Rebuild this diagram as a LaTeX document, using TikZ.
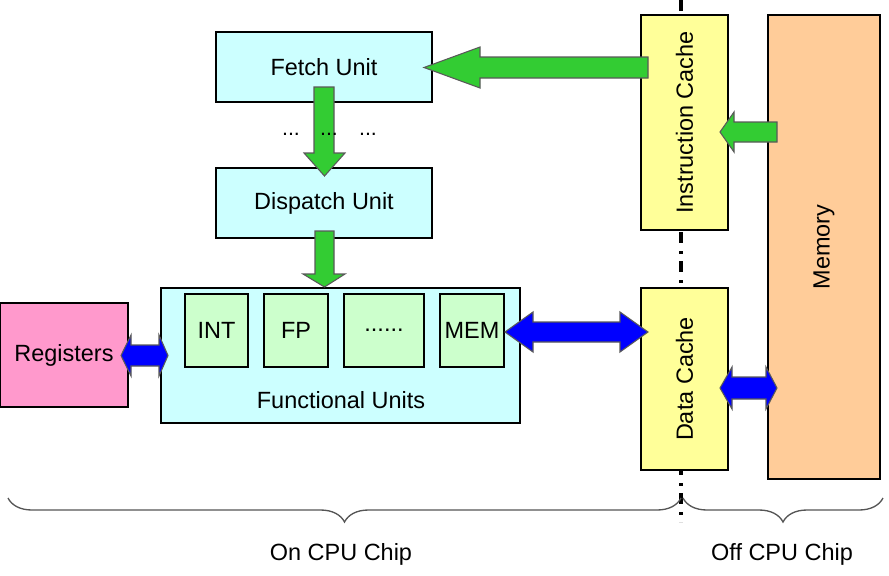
\documentclass[tikz,border=0pt]{standalone}
\usepackage{fontspec}
\setmainfont{Liberation Sans}
\usetikzlibrary{decorations.pathreplacing}
\definecolor{cyanbox}{HTML}{CCFFFF}
\definecolor{greenbox}{HTML}{CCFFCC}
\definecolor{pinkbox}{HTML}{FF99CC}
\definecolor{yellowbox}{HTML}{FFFF99}
\definecolor{orangebox}{HTML}{FFCC99}
\definecolor{greenarrow}{HTML}{33CC33}
\definecolor{bluearrow}{HTML}{0000FF}
\definecolor{bracegray}{HTML}{555555}
\tikzset{
  box/.style={draw=black, line width=0.8pt, inner sep=0pt, outer sep=0pt,
    font=\fontsize{17.6pt}{21pt}\selectfont},
  cbox/.style={box, fill=cyanbox},
  gbox/.style={box, fill=greenbox},
  pbox/.style={box, fill=pinkbox},
  ybox/.style={box, fill=yellowbox},
  obox/.style={box, fill=orangebox},
  txt/.style={inner sep=0pt, font=\fontsize{17.6pt}{21pt}\selectfont},
  ellip/.style={inner sep=0pt, font=\fontsize{16pt}{18pt}\selectfont},
  garrow/.style={fill=greenarrow, draw=black!65, line width=0.8pt, line join=miter},
  barrow/.style={fill=bluearrow, draw=black!65, line width=0.8pt, line join=miter},
  chipline/.style={line width=2.4pt, dash pattern=on 8.25pt off 6pt on 2.25pt off 5.25pt},
  bracedeco/.style={draw=bracegray, line width=1pt,
    decorate, decoration={brace, mirror, amplitude=18pt}},
}
\begin{document}
\begin{tikzpicture}[x=0.75pt,y=-0.75pt]
\useasboundingbox (0,0) rectangle (889,575);

% chip boundary
\coordinate (ltop) at (681,0);
\coordinate (lbot) at (681,522);
\draw[chipline] (ltop) -- (lbot);

% boxes
\node[cbox, minimum width=162pt, minimum height=52.5pt] (fetch) at (324,67) {Fetch Unit};
\node[cbox, minimum width=162pt, minimum height=52.5pt] (dispatch) at (324,203) {Dispatch Unit};
\node[cbox, minimum width=269.25pt, minimum height=101.25pt] (fu) at (340.5,355.5) {};
\node[txt] (fulabel) at (341,400) {Functional Units};
\node[gbox, minimum width=47.25pt, minimum height=54.75pt] (int) at (216.5,330.5) {INT};
\node[gbox, minimum width=48pt, minimum height=54.75pt] (fp) at (296,330.5) {FP};
\node[gbox, minimum width=60pt, minimum height=54.75pt] (dots) at (384,330.5) {......};
\node[gbox, minimum width=48pt, minimum height=54.75pt] (mem) at (472,330.5) {MEM};
\node[pbox, minimum width=96pt, minimum height=78pt] (reg) at (64,355) {Registers};
\node[ybox, rotate=90, minimum width=161.25pt, minimum height=65.25pt] (icache) at (684.5,122.5) {Instruction Cache};
\node[ybox, rotate=90, minimum width=136.5pt, minimum height=65.25pt] (dcache) at (684.5,379) {Data Cache};
\node[obox, rotate=90, minimum width=348pt, minimum height=84pt] (memory) at (824,247) {Memory};

% green block arrows
\draw[garrow] (648,57) -- (480,57) -- (480,47) -- (424,67.5) -- (480,88) -- (480,78) -- (648,78) -- cycle;
\draw[garrow] (314,87) -- (314,153) -- (304,153) -- (324.5,176) -- (345,153) -- (334,153) -- (334,87) -- cycle;
\draw[garrow] (315,231) -- (315,274) -- (303,274) -- (324.5,287) -- (345,274) -- (334,274) -- (334,231) -- cycle;
\draw[garrow] (777,122) -- (734,122) -- (734,112) -- (720,132) -- (734,152) -- (734,142) -- (777,142) -- cycle;

% blue double arrows
\draw[barrow] (121,355.5) -- (131,335) -- (131,345) -- (159,345) -- (159,335) -- (168,355.5)
  -- (159,376) -- (159,366) -- (131,366) -- (131,376) -- cycle;
\draw[barrow] (505,332) -- (533,312) -- (533,322) -- (620,322) -- (620,312) -- (648,332)
  -- (620,352) -- (620,342) -- (533,342) -- (533,352) -- cycle;
\draw[barrow] (720,388) -- (732,367) -- (732,377) -- (766,377) -- (766,367) -- (777,388)
  -- (766,409) -- (766,399) -- (732,399) -- (732,409) -- cycle;

% ellipses between fetch and dispatch
\node[ellip] (e1) at (291,134) {...};
\node[ellip] (e2) at (329,134) {...};
\node[ellip] (e3) at (368,134) {...};

% braces
\coordinate (bl1) at (8,498);
\coordinate (bl2) at (681,498);
\coordinate (br1) at (683,498);
\coordinate (br2) at (883,498);
\draw[bracedeco] (bl1) -- (bl2);
\draw[bracedeco] (br1) -- (br2);
\node[txt] (on) at (341,554) {On CPU Chip};
\node[txt] (off) at (782,554) {Off CPU Chip};
\end{tikzpicture}
\end{document}
